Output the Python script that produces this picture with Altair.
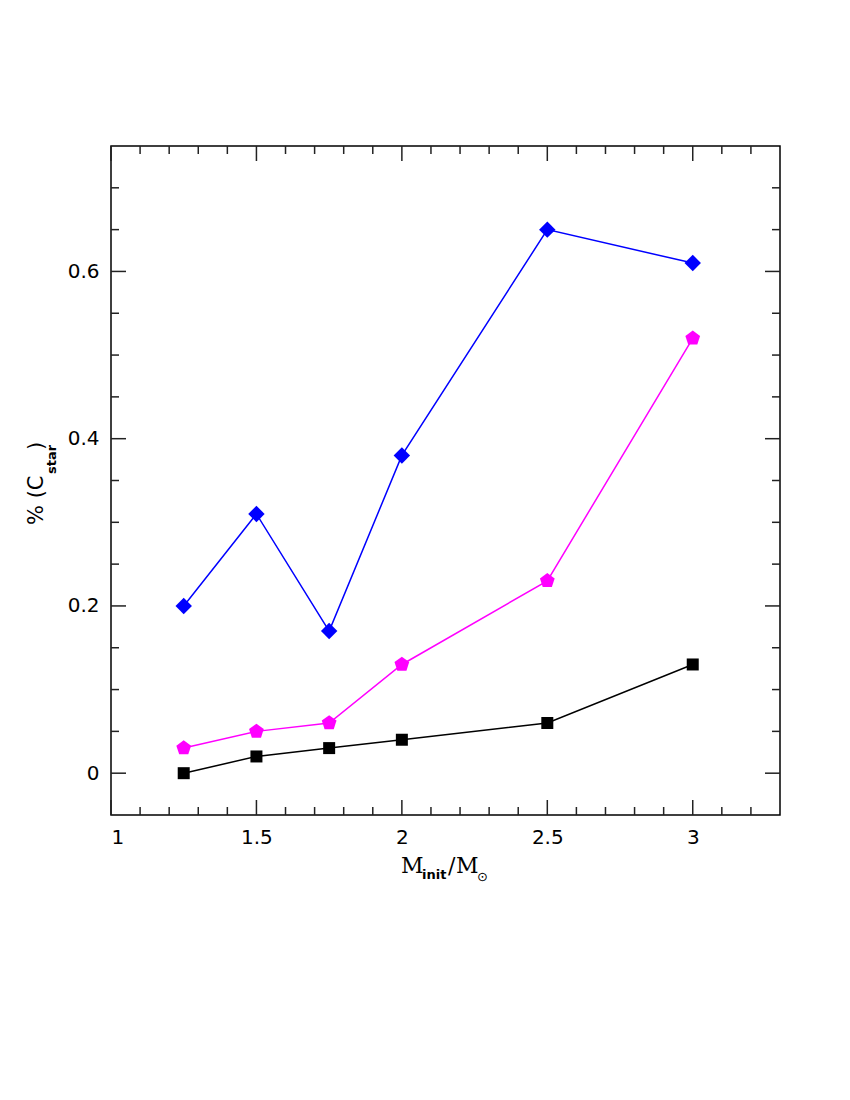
import altair as alt
import pandas as pd

# ---- data ----
mass = [1.25, 1.5, 1.75, 2.0, 2.5, 3.0]
blue_vals = [0.20, 0.31, 0.17, 0.38, 0.65, 0.61]
magenta_vals = [0.03, 0.05, 0.06, 0.13, 0.23, 0.52]
black_vals = [0.00, 0.02, 0.03, 0.04, 0.06, 0.13]

x_major = [1, 1.5, 2, 2.5, 3]
x_minor = [1.1, 1.2, 1.3, 1.4, 1.6, 1.7, 1.8, 1.9, 2.1, 2.2, 2.3, 2.4,
           2.6, 2.7, 2.8, 2.9, 3.1, 3.2]
y_major = [0, 0.2, 0.4, 0.6]
y_minor = [0.05, 0.1, 0.15, 0.25, 0.3, 0.35, 0.45, 0.5, 0.55, 0.65, 0.7]

W, H = 669, 669
XDOM = [1, 3.3]
YDOM = [-0.05, 0.75]

pentagon = "M0,-1L0.951,-0.309L0.588,0.809L-0.588,0.809L-0.951,-0.309Z"

xs = alt.Scale(domain=XDOM, nice=False, zero=False)
ys = alt.Scale(domain=YDOM, nice=False, zero=False)

xaxis = alt.Axis(values=x_major, format="~g", grid=False, domain=False, ticks=False,
                 tickSize=0, labelPadding=12, labelFontSize=20, labelFont="DejaVu Sans",
                 labelColor="black", title=None)
yaxis = alt.Axis(values=y_major, format="~g", grid=False, domain=False, ticks=False,
                 tickSize=0, labelPadding=12, labelFontSize=20, labelFont="DejaVu Sans",
                 labelColor="black", title=None)


def series_layers(vals, color, shape, size, with_axes=False):
    d = pd.DataFrame({"mass": mass, "pct": vals})
    if with_axes:
        xenc = alt.X("mass:Q", scale=xs, axis=xaxis)
        yenc = alt.Y("pct:Q", scale=ys, axis=yaxis)
    else:
        xenc = alt.X("mass:Q", scale=xs)
        yenc = alt.Y("pct:Q", scale=ys)
    line = alt.Chart(d).mark_line(color=color, strokeWidth=1.5).encode(x=xenc, y=yenc)
    pts = alt.Chart(d).mark_point(shape=shape, filled=True, opacity=1, color=color,
                                  size=size, strokeWidth=0).encode(
        x=alt.X("mass:Q", scale=xs), y=alt.Y("pct:Q", scale=ys))
    return [line, pts]


layers = (series_layers(blue_vals, "#0000ff", "diamond", 270, with_axes=True)
          + series_layers(magenta_vals, "#ff00ff", pentagon, 240)
          + series_layers(black_vals, "#000000", "square", 144))


def tick_layers(vals, length):
    d = pd.DataFrame({"v": vals})
    c = alt.Chart(d).mark_rule(color="#222222", strokeWidth=1.5)
    bottom = c.encode(x=alt.X("v:Q", scale=xs), y=alt.value(H), y2=alt.value(H - length))
    top = c.encode(x=alt.X("v:Q", scale=xs), y=alt.value(0), y2=alt.value(length))
    return [bottom, top]


def ytick_layers(vals, length):
    d = pd.DataFrame({"v": vals})
    c = alt.Chart(d).mark_rule(color="#222222", strokeWidth=1.5)
    left = c.encode(y=alt.Y("v:Q", scale=ys), x=alt.value(0), x2=alt.value(length))
    right = c.encode(y=alt.Y("v:Q", scale=ys), x=alt.value(W), x2=alt.value(W - length))
    return [left, right]


ticks = (tick_layers(x_major, 15) + tick_layers(x_minor, 8)
         + ytick_layers(y_major, 15) + ytick_layers(y_minor, 8))

one = pd.DataFrame({"a": [0]})


def txt(text, x, y, size, font="DejaVu Sans", angle=0, baseline="alphabetic", weight="normal"):
    return alt.Chart(one).mark_text(text=text, align="left", baseline=baseline,
                                    fontSize=size, font=font, angle=angle,
                                    fontWeight=weight, color="black").encode(
        x=alt.value(x), y=alt.value(y))


# x title: M_init / M_sun
xt = [
    txt("M", 290, 727, 22, font="DejaVu Serif"),
    txt("init", 311, 733, 13, weight="bold"),
    txt("/", 337, 727, 22, font="DejaVu Serif"),
    txt("M", 345, 727, 22, font="DejaVu Serif"),
    txt("⊙", 366, 731, 13, baseline="middle"),
]
# y title: % (C_star)
yt = [
    txt("% (C", -68, 379, 21, angle=270),
    txt("star", -55, 328, 13, angle=270, weight="bold"),
    txt(")", -68, 304, 21, angle=270),
]

chart = alt.layer(*layers, *ticks, *xt, *yt).properties(
    width=W, height=H,
    autosize=alt.AutoSizeParams(type="none"),
    padding={"left": 103, "top": 138, "right": 50, "bottom": 250},
).configure_view(stroke="black", strokeWidth=1.5)

chart.save("out.html", embed_options={"renderer": "svg", "actions": False})
